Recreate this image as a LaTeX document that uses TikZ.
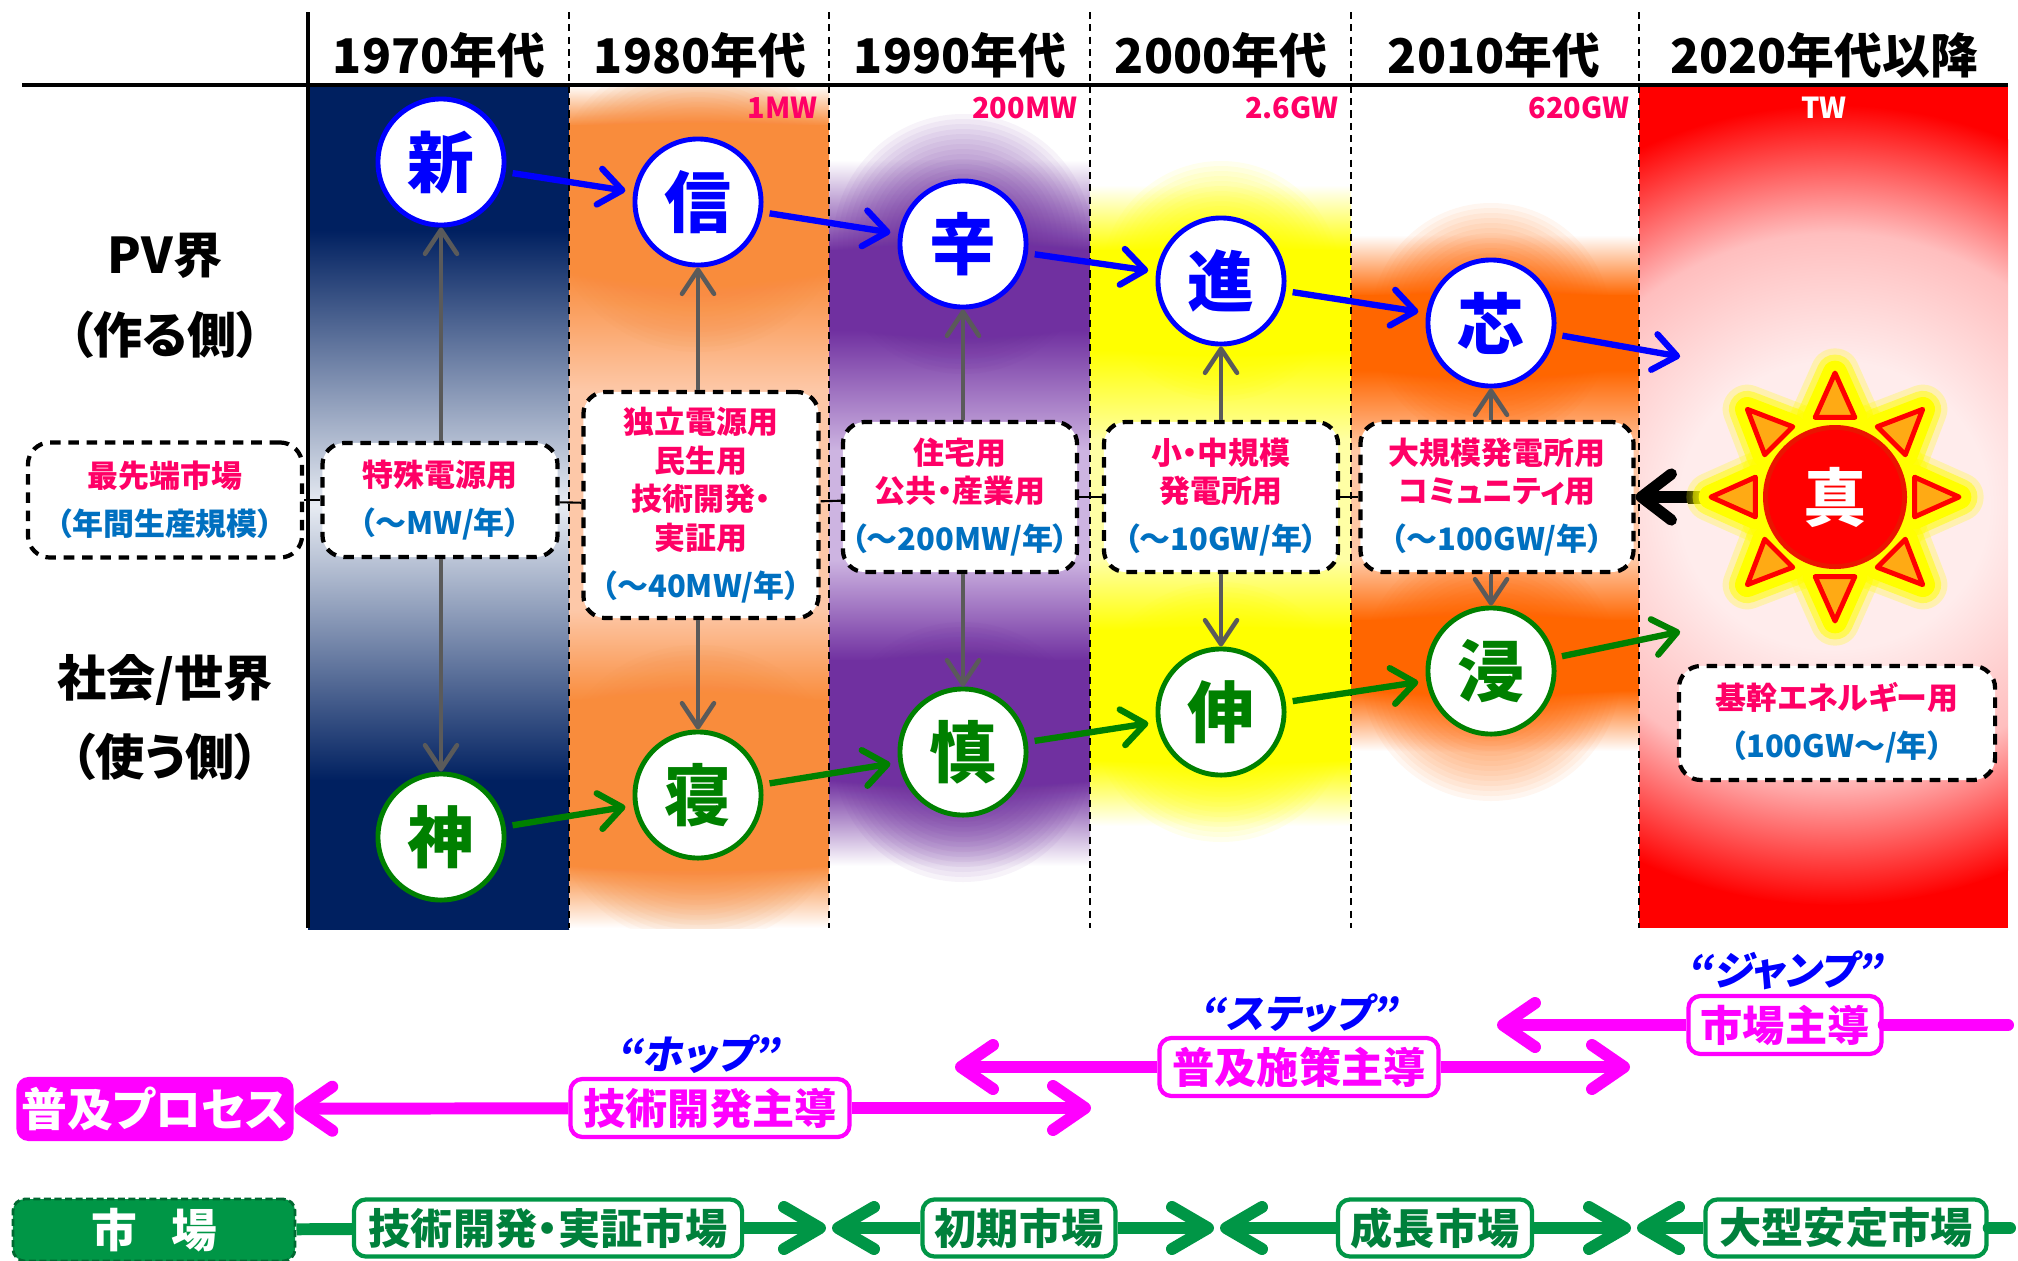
\documentclass[tikz,border=0pt]{standalone}
\usepackage{fontspec}
\setmainfont{Noto Sans CJK JP}[RawFeature={+palt}]
\newfontfamily\slantjp{Noto Sans CJK JP}[FakeSlant=0.18,RawFeature={+palt}]
\usepackage{xcolor}
\definecolor{pv_blue}{RGB}{0,0,255}
\definecolor{soc_green}{RGB}{0,128,0}
\definecolor{mkt_green}{RGB}{0,150,70}
\definecolor{use_pink}{RGB}{255,0,102}
\definecolor{amt_blue}{RGB}{0,112,192}
\definecolor{ar_gray}{RGB}{90,90,90}
\definecolor{prc_magenta}{RGB}{255,0,255}
\definecolor{bg_navy}{RGB}{0,32,96}
\definecolor{bg_navylight}{RGB}{232,236,243}
\definecolor{bg_orange}{RGB}{249,140,60}
\definecolor{bg_peach}{RGB}{253,200,168}
\definecolor{bg_purple}{RGB}{112,48,160}
\definecolor{bg_lavender}{RGB}{205,180,225}
\definecolor{bg_yellow}{RGB}{255,255,0}
\definecolor{bg_lightyellow}{RGB}{255,255,165}
\definecolor{bg_orange2}{RGB}{255,102,0}
\definecolor{bg_peach2}{RGB}{255,200,165}
\definecolor{bg_red}{RGB}{255,0,0}
\definecolor{halo_in}{RGB}{255,236,236}
\definecolor{halo_mid}{RGB}{255,190,190}
\definecolor{ray_orange}{RGB}{255,170,20}
\definecolor{sun_edge}{RGB}{235,20,0}
\usetikzlibrary{arrows.meta,positioning,calc}
% 太陽まわりの明るい部分
\pgfdeclareradialshading{sunhalo}{\pgfpoint{0bp}{0bp}}{color(0bp)=(halo_in); color(9bp)=(halo_in); color(17bp)=(halo_mid); color(25bp)=(bg_red); color(50bp)=(bg_red)}
% 縦方向のグラデーション帯
\newcommand{\band}[3]{\foreach \ya/\ca/\yb/\cb in {#3}{\shade[top color=\ca,bottom color=\cb] (#1,\ya) rectangle (#2,\yb+1);}}
% ぼかし(薄く重ね塗り)
\newcommand{\glow}[4]{\foreach \r in {#3}{\fill[#2,opacity=#4] (#1) circle (\r);}}
% 年間生産規模の行
\newcommand{\perYear}[1]{\\[2.6pt]\textcolor{amt_blue}{#1}}

\begin{document}
\begin{tikzpicture}[x=0.01cm,y=-0.01cm,
  decade/.style={font=\fontsize{13.6}{14}\selectfont\bfseries},
  sidelabel/.style={font=\fontsize{14}{15}\selectfont\bfseries},
  capa/.style={text=use_pink,inner sep=0pt,font=\fontsize{8.2}{9}\selectfont\bfseries},
  pv/.style={circle,draw=pv_blue,line width=1.4pt,fill=white,minimum size=12.6mm,inner sep=0pt,text=pv_blue,font=\fontsize{19}{19}\selectfont\bfseries},
  soc/.style={pv,draw=soc_green,text=soc_green},
  usage/.style={draw,line width=1.2pt,dash pattern=on 3pt off 2.2pt,rounded corners=2.2mm,fill=white,align=center,text=use_pink,inner sep=0pt,font=\fontsize{8.8}{11}\selectfont\bfseries},
  sun/.style={circle,fill=bg_red,draw=sun_edge,line width=1.4pt,minimum size=13.9mm,inner sep=0pt,text=white,font=\fontsize{18}{18}\selectfont\bfseries},
  pvarrow/.style={pv_blue,line width=1.8pt,-{Straight Barb[length=2.3mm,width=3.6mm,round]},shorten <=0.7mm,shorten >=0.8mm},
  socarrow/.style={pvarrow,soc_green},
  grayarrow/.style={ar_gray,line width=1.3pt,-{Straight Barb[length=2.4mm,width=3.2mm,round]}},
  blackarrow/.style={black,line width=3.2pt,-{Straight Barb[length=3mm,width=4.6mm,round]}},
  procbox/.style={fill=prc_magenta,text=white,rounded corners=1.2mm,minimum width=27.7mm,minimum height=6.4mm,inner sep=0pt,font=\fontsize{13}{13}\selectfont\bfseries},
  pinkbox/.style={draw=prc_magenta,line width=1.2pt,fill=white,text=prc_magenta,rounded corners=1.2mm,minimum height=5.8mm,inner sep=0pt,font=\fontsize{12}{12}\selectfont\bfseries},
  phaselabel/.style={text=pv_blue,inner sep=0pt,font=\fontsize{11.4}{12}\slantjp\bfseries},
  pinkline/.style={prc_magenta,line width=3.4pt,line cap=round},
  pinkarrow/.style={prc_magenta,line width=3.4pt,-{Straight Barb[length=3.2mm,width=4.4mm,round]}},
  mktbox/.style={fill=mkt_green,draw=mkt_green!70!black,dash pattern=on 2pt off 1pt,line width=0.8pt,text=white,rounded corners=1.2mm,minimum width=28.2mm,minimum height=6.2mm,inner sep=0pt,font=\fontsize{13}{13}\selectfont\bfseries},
  mktstage/.style={draw=mkt_green,line width=1.2pt,fill=white,text=mkt_green!85!black,rounded corners=1.2mm,minimum height=5.7mm,inner sep=0pt,font=\fontsize{12}{12}\selectfont\bfseries},
  mktline/.style={mkt_green,line width=3.4pt},
  mktarrow/.style={mktline,-{Straight Barb[length=3.6mm,width=4.2mm,round]},shorten >=0.3mm}]
\useasboundingbox (0,0) rectangle (2018,1260);
\coordinate (sunc) at (1835,497);

%背景(年代ごと)
\band{308}{569}{85/bg_navy/230/bg_navy,230/bg_navy/505/bg_navylight,505/bg_navylight/780/bg_navy,780/bg_navy/928/bg_navy}
\band{569}{829}{85/white/125/bg_orange,125/bg_orange/270/bg_orange,270/bg_orange/390/bg_peach,390/bg_peach/610/bg_peach,610/bg_peach/700/bg_orange,700/bg_orange/865/bg_orange,865/bg_orange/927/white}
\band{829}{1090}{160/white/250/bg_purple,250/bg_purple/330/bg_purple,330/bg_purple/450/bg_lavender,450/bg_lavender/560/bg_lavender,560/bg_lavender/660/bg_purple,660/bg_purple/780/bg_purple,780/bg_purple/865/white}
\band{1090}{1351}{185/white/250/bg_yellow,250/bg_yellow/350/bg_yellow,350/bg_yellow/440/bg_lightyellow,440/bg_lightyellow/560/bg_lightyellow,560/bg_lightyellow/630/bg_yellow,630/bg_yellow/760/bg_yellow,760/bg_yellow/825/white}
\band{1351}{1639}{235/white/295/bg_orange2,295/bg_orange2/370/bg_orange2,370/bg_orange2/450/bg_peach2,450/bg_peach2/560/bg_peach2,560/bg_peach2/620/bg_orange2,620/bg_orange2/690/bg_orange2,690/bg_orange2/750/white}
%ノードまわりのぼかし
\begin{scope}
  \clip (569,85) rectangle (829,928);
  \glow{698,202}{bg_orange}{60,65,...,150}{0.05}
  \glow{698,795}{bg_orange}{60,65,...,150}{0.05}
\end{scope}
\begin{scope}
  \clip (829,85) rectangle (1090,928);
  \glow{963,244}{bg_purple}{60,65,...,130}{0.06}
  \glow{963,752}{bg_purple}{60,65,...,130}{0.06}
\end{scope}
\begin{scope}
  \clip (1090,85) rectangle (1351,928);
  \glow{1221,281}{bg_yellow}{60,65,...,120}{0.07}
  \glow{1221,712}{bg_yellow}{60,65,...,130}{0.07}
\end{scope}
\begin{scope}
  \clip (1351,85) rectangle (1639,928);
  \glow{1491,323}{bg_orange2}{60,65,...,120}{0.06}
  \glow{1491,671}{bg_orange2}{60,65,...,130}{0.06}
\end{scope}
\begin{scope}
  \clip (1639,85) rectangle (2008,928);
  \fill[bg_red] (1639,85) rectangle (2008,928);
  \shade[shading=sunhalo] (1834,505) ellipse (430 and 400);
\end{scope}

%罫線
\draw[line width=1.1pt] (22,85) -- (2008,85);
\draw[line width=1pt] (308,12) -- (308,928);
\foreach \x in {569,829,1090,1351,1639}
  \draw[line width=0.6pt,dash pattern=on 2pt off 1.5pt] (\x,12) -- (\x,928);

%年代
\node[decade] (d1970) at (439,55) {1970年代};
\node[decade] (d1980) at (700,55) {1980年代};
\node[decade] (d1990) at (960,55) {1990年代};
\node[decade] (d2000) at (1221,55) {2000年代};
\node[decade] (d2010) at (1494,55) {2010年代};
\node[decade] (d2020) at (1824,55) {2020年代以降};
%累積導入量
\node[capa,anchor=east] (c1980) at (818,108) {1MW};
\node[capa,anchor=east] (c1990) at (1078,108) {200MW};
\node[capa,anchor=east] (c2000) at (1339,108) {2.6GW};
\node[capa,anchor=east] (c2010) at (1630,108) {620GW};
\node[capa,text=white] (c2020) at (1824,108) {TW};
%左の見出し
\node[sidelabel] (pvside) at (165,256) {PV界};
\node[sidelabel] (pvmake) at (165,335) {（作る側）};
\node[sidelabel] (socside) at (165,680) {社会/世界};
\node[sidelabel] (socuse) at (165,757) {（使う側）};

%用途と規模
\node[usage,minimum width=27.4mm,minimum height=11.5mm] (box1) at (165,500) {最先端市場\perYear{（年間生産規模）}};
\node[usage,minimum width=23.5mm,minimum height=11.4mm] (box2) at (440,500) {特殊電源用\perYear{（～MW/年）}};
\node[usage,minimum width=23.5mm,minimum height=22.6mm] (box3) at (701,505) {独立電源用\\民生用\\技術開発・\\実証用\perYear{（～40MW/年）}};
\node[usage,minimum width=23.4mm,minimum height=15mm] (box4) at (960,497) {住宅用\\公共・産業用\perYear{（～200MW/年）}};
\node[usage,minimum width=23.4mm,minimum height=15mm] (box5) at (1221,497) {小・中規模\\発電所用\perYear{（～10GW/年）}};
\node[usage,minimum width=27.3mm,minimum height=15mm] (box6) at (1497,497) {大規模発電所用\\コミュニティ用\perYear{（～100GW/年）}};
\node[usage,minimum width=31.6mm,minimum height=11.4mm] (box7) at (1837,723) {基幹エネルギー用\perYear{（100GW～/年）}};
\foreach \a/\b in {box1/box2,box2/box3,box3/box4,box4/box5,box5/box6}
  \draw[line width=0.6pt] (\a) -- (\b);

%作る側
\node[pv] (pv1) at (441,162) {新};
\node[pv] (pv2) at (698,202) {信};
\node[pv] (pv3) at (963,244) {辛};
\node[pv] (pv4) at (1221,281) {進};
\node[pv] (pv5) at (1491,323) {芯};
%使う側
\node[soc] (sc1) at (441,837) {神};
\node[soc] (sc2) at (698,795) {寝};
\node[soc] (sc3) at (963,752) {慎};
\node[soc] (sc4) at (1221,712) {伸};
\node[soc] (sc5) at (1491,671) {浸};
\coordinate (pvend) at (1688,358);
\coordinate (scend) at (1688,630);
\foreach \a/\b in {pv1/pv2,pv2/pv3,pv3/pv4,pv4/pv5,pv5/pvend}
  \draw[pvarrow] (\a) -- (\b);
\foreach \a/\b in {sc1/sc2,sc2/sc3,sc3/sc4,sc4/sc5,sc5/scend}
  \draw[socarrow] (\a) -- (\b);
\foreach \b/\t/\s in {box2/pv1/sc1,box3/pv2/sc2,box4/pv3/sc3,box5/pv4/sc4,box6/pv5/sc5}{
  \draw[grayarrow] (\b.north -| \t) -- (\t.south);
  \draw[grayarrow] (\b.south -| \s) -- (\s.north);
}

%真(太陽)
\draw[blackarrow] (1700,497) -- (box6.east);
\shade[left color=black,right color=bg_yellow] (1688,491) rectangle (1712,503);
\foreach \w/\o in {14pt/0.25,10.5pt/0.5,7pt/1}{
  \foreach \a in {0,45,...,315}
    \filldraw[bg_yellow,line width=\w,line join=round,opacity=\o] ($(sunc)+(\a:124)$) -- ($(sunc)+(\a+14:82)$) -- ($(sunc)+(\a-14:82)$) -- cycle;
  \filldraw[bg_yellow,line width=\w,opacity=\o] (sunc) circle (72);
}
\foreach \a in {0,45,...,315}
  \filldraw[draw=bg_red,fill=ray_orange,line width=1.4pt,line join=round] ($(sunc)+(\a:124)$) -- ($(sunc)+(\a+14:82)$) -- ($(sunc)+(\a-14:82)$) -- cycle;
\node[sun] (sun) at (sunc) {真};

%普及プロセス
\node[procbox] (proc) at (155,1109) {普及プロセス};
\node[pinkbox,minimum width=27.9mm] (tech) at (710,1108) {技術開発主導};
\node[pinkbox,minimum width=27.9mm] (policy) at (1299,1067) {普及施策主導};
\node[pinkbox,minimum width=19.3mm] (lead) at (1785,1025) {市場主導};
\node[phaselabel,above=0.3mm of tech,xshift=-1.2mm] (hop) {“ホップ”};
\node[phaselabel,above=0.3mm of policy] (stepq) {“ステップ”};
\node[phaselabel,above=0.3mm of lead] (jump) {“ジャンプ”};
\coordinate (hopend) at (1091,1108);
\coordinate (stepstart) at (955,1067);
\coordinate (stepend) at (1630,1067);
\coordinate (jumpstart) at (1497,1025);
\coordinate (jumpend) at (2008,1025);
\draw[pinkarrow] (tech) -- (proc);
\draw[pinkarrow] (tech) -- (hopend);
\draw[pinkarrow] (policy) -- (stepstart);
\draw[pinkarrow] (policy) -- (stepend);
\draw[pinkarrow] (lead) -- (jumpstart);
\draw[pinkline] (lead) -- (jumpend);

%市場
\node[mktbox] (mkt) at (154,1230) {市\hspace{0.75em}場};
\node[mktstage,minimum width=38.8mm] (demo) at (548,1228) {技術開発・実証市場};
\node[mktstage,minimum width=19.3mm] (early) at (1019,1228) {初期市場};
\node[mktstage,minimum width=19.4mm] (growth) at (1435,1228) {成長市場};
\node[mktstage,minimum width=28.1mm] (stable) at (1846,1228) {大型安定市場};
\coordinate (m1) at (829,1228);
\coordinate (m2) at (1217,1228);
\coordinate (m3) at (1634,1228);
\coordinate (mend) at (2010,1228);
\draw[mktline] (mkt) -- (demo);
\draw[mktarrow] (demo) -- (m1);
\draw[mktarrow] (early) -- (m1);
\draw[mktarrow] (early) -- (m2);
\draw[mktarrow] (growth) -- (m2);
\draw[mktarrow] (growth) -- (m3);
\draw[mktarrow] (stable) -- (m3);
\draw[mktline,line cap=round] (stable) -- (mend);
\end{tikzpicture}
\end{document}
